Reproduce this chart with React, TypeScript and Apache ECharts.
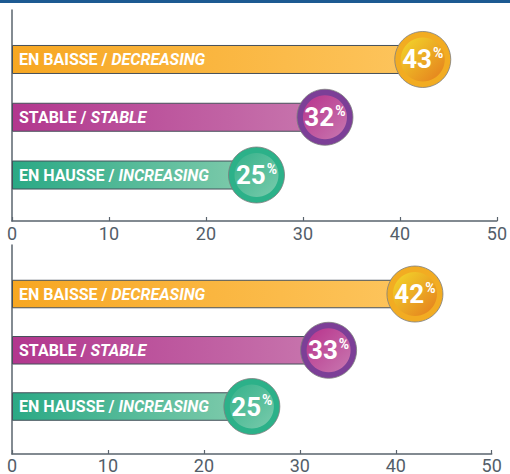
import React, { useEffect, useRef } from "react";
import * as echarts from "echarts";

// ---- data ----
const frLabels = ["EN BAISSE", "STABLE", "EN HAUSSE"];
const enLabels = ["DECREASING", "STABLE", "INCREASING"];
const xTicks = [0, 10, 20, 30, 40, 50];

const topPercents = [43, 32, 25];
const topBarEnds = [42, 32, 25];
const bottomPercents = [42, 33, 25];
const bottomBarEnds = [42, 33, 25];

// ---- styles ----
const FONT = "Roboto, 'Liberation Sans', sans-serif";
const AXIS_COLOR = "#5a646e";
const barGrad = [
  ["#f7a722", "#fdc55e"],
  ["#b2378e", "#c877ae"],
  ["#2aa985", "#82ccad"],
];
const ringColors = ["#f2ac22", "#7c3f97", "#2cb189"];
const discGrad = [
  ["#f3d82b", "#e47c1d"],
  ["#b8338c", "#c878b0"],
  ["#36b28b", "#7acbac"],
];

interface Layout {
  height: number;
  right: number;
  axisTop: number;
  axisBottom: number;
  barTop: number;
  barHeight: number;
  barWidth: number;
  labelMargin: number;
  band: boolean;
}

function buildOption(percents: number[], barEnds: number[], L: Layout): any {
  const cats = frLabels.map((f, i) => f + " / " + enLabels[i]);
  const lin = (c: string[], x2: number, y2: number) =>
    new echarts.graphic.LinearGradient(0, 0, x2, y2, [
      { offset: 0, color: c[0] },
      { offset: 1, color: c[1] },
    ]);
  const opt: any = {
    animation: false,
    backgroundColor: "#ffffff",
    grid: [
      { left: 12, right: L.right, top: L.axisTop, bottom: L.axisBottom },
      { left: 12, right: L.right, top: L.barTop, height: L.barHeight },
    ],
    xAxis: [
      {
        gridIndex: 0,
        type: "value",
        min: xTicks[0],
        max: xTicks[xTicks.length - 1],
        interval: xTicks[1] - xTicks[0],
        axisLine: { show: true, lineStyle: { color: AXIS_COLOR, width: 1.5 } },
        axisTick: { show: true, inside: true, length: 4, lineStyle: { color: AXIS_COLOR, width: 1.2 } },
        axisLabel: { margin: L.labelMargin, color: "#535e69", fontFamily: FONT, fontSize: 18 },
        splitLine: { show: false },
      },
      { gridIndex: 1, type: "value", min: 0, max: 50, show: false },
    ],
    yAxis: [
      {
        gridIndex: 0,
        type: "value",
        min: 0,
        max: 1,
        axisLine: { show: true, lineStyle: { color: AXIS_COLOR, width: 1.5 } },
        axisTick: { show: false },
        axisLabel: { show: false },
        splitLine: { show: false },
      },
      { gridIndex: 1, type: "category", data: cats, inverse: true, show: false },
    ],
    series: [
      {
        type: "bar",
        xAxisIndex: 1,
        yAxisIndex: 1,
        barWidth: L.barWidth,
        z: 2,
        data: barEnds.map((v, i) => ({
          value: v,
          itemStyle: { color: lin(barGrad[i], 1, 0), borderColor: "#45505a", borderWidth: 1 },
          label: {
            show: true,
            position: "insideLeft",
            distance: 7,
            formatter: () => "{a|" + frLabels[i] + " / }{b|" + enLabels[i] + "}",
            rich: {
              a: { color: "#fff", fontFamily: FONT, fontWeight: "bold", fontSize: 16 },
              b: { color: "#fff", fontFamily: FONT, fontWeight: "bold", fontStyle: "italic", fontSize: 16 },
            },
          },
        })),
      },
      {
        type: "scatter",
        xAxisIndex: 1,
        yAxisIndex: 1,
        symbol: "circle",
        symbolSize: 56,
        z: 3,
        data: barEnds.map((v, i) => ({
          value: [v, i],
          itemStyle: { color: ringColors[i], borderColor: "#7d7d7d", borderWidth: 0.8, opacity: 1 },
        })),
      },
      {
        type: "scatter",
        xAxisIndex: 1,
        yAxisIndex: 1,
        symbol: "circle",
        symbolSize: 44,
        z: 4,
        data: barEnds.map((v, i) => ({
          value: [v, i],
          itemStyle: { color: lin(discGrad[i], 1, 1), opacity: 1 },
          label: {
            show: true,
            position: "inside",
            formatter: () => "{n|" + percents[i] + "}{p|%}",
            rich: {
              n: { color: "#fff", fontFamily: FONT, fontWeight: "bold", fontSize: 26, lineHeight: 27 },
              p: {
                color: "#fff",
                fontFamily: FONT,
                fontWeight: "bold",
                fontSize: 14,
                lineHeight: 14,
                verticalAlign: "top",
                padding: [0, 0, 11, 1],
              },
            },
          },
        })),
      },
    ],
  };
  if (L.band) {
    opt.graphic = [
      { type: "rect", shape: { x: 0, y: 0, width: 510, height: 3 }, style: { fill: "#1d5a92" }, z: 10 },
    ];
  }
  return opt;
}

const topLayout: Layout = {
  height: 242,
  right: 9,
  axisTop: 10,
  axisBottom: 18,
  barTop: 30.6,
  barHeight: 173.3,
  barWidth: 29,
  labelMargin: 3,
  band: true,
};
const bottomLayout: Layout = {
  height: 232,
  right: 18.3,
  axisTop: 3,
  axisBottom: 18.3,
  barTop: 23.9,
  barHeight: 168.75,
  barWidth: 28.5,
  labelMargin: 2,
  band: false,
};

function Chart({ percents, barEnds, layout }: { percents: number[]; barEnds: number[]; layout: Layout }) {
  const ref = useRef<HTMLDivElement>(null);
  useEffect(() => {
    if (!ref.current) return;
    const chart = echarts.init(ref.current, undefined, { renderer: "svg" });
    chart.setOption(buildOption(percents, barEnds, layout));
    return () => chart.dispose();
  }, []);
  return <div ref={ref} style={{ width: 510, height: layout.height, overflow: "hidden" }} />;
}

export default function App() {
  return (
    <div style={{ position: "fixed", left: 0, top: 0, width: 510, height: 474, background: "#fff", overflow: "hidden" }}>
      <Chart percents={topPercents} barEnds={topBarEnds} layout={topLayout} />
      <Chart percents={bottomPercents} barEnds={bottomBarEnds} layout={bottomLayout} />
    </div>
  );
}
